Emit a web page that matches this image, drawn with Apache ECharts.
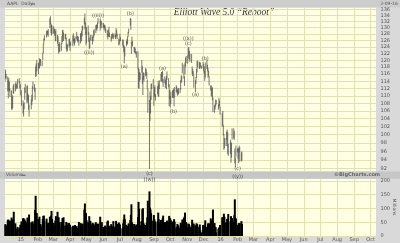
<!DOCTYPE html>
<html><head><meta charset="utf-8">
<script src="https://cdn.jsdelivr.net/npm/echarts@6/dist/echarts.min.js"></script>
<style>html,body{margin:0;padding:0;background:#d9d9d9}#c{width:400px;height:243px}</style>
</head><body><div id="c"></div>
<script>
// ---- daily AAPL bars (dates / lows / highs / volume in millions) ----
const dates = [
'2014-12-03','2014-12-04','2014-12-05','2014-12-08','2014-12-09','2014-12-10','2014-12-11','2014-12-12','2014-12-15','2014-12-16','2014-12-17','2014-12-18','2014-12-19','2014-12-22','2014-12-23','2014-12-24','2014-12-26','2014-12-29','2014-12-30','2014-12-31',
'2015-01-02','2015-01-05','2015-01-06','2015-01-07','2015-01-08','2015-01-09','2015-01-12','2015-01-13','2015-01-14','2015-01-15','2015-01-16','2015-01-20','2015-01-21','2015-01-22','2015-01-23','2015-01-26','2015-01-27','2015-01-28','2015-01-29','2015-01-30',
'2015-02-02','2015-02-03','2015-02-04','2015-02-05','2015-02-06','2015-02-09','2015-02-10','2015-02-11','2015-02-12','2015-02-13','2015-02-17','2015-02-18','2015-02-19','2015-02-20','2015-02-23','2015-02-24','2015-02-25','2015-02-26','2015-02-27',
'2015-03-02','2015-03-03','2015-03-04','2015-03-05','2015-03-06','2015-03-09','2015-03-10','2015-03-11','2015-03-12','2015-03-13','2015-03-16','2015-03-17','2015-03-18','2015-03-19','2015-03-20','2015-03-23','2015-03-24','2015-03-25','2015-03-26','2015-03-27','2015-03-30','2015-03-31',
'2015-04-01','2015-04-02','2015-04-06','2015-04-07','2015-04-08','2015-04-09','2015-04-10','2015-04-13','2015-04-14','2015-04-15','2015-04-16','2015-04-17','2015-04-20','2015-04-21','2015-04-22','2015-04-23','2015-04-24','2015-04-27','2015-04-28','2015-04-29','2015-04-30',
'2015-05-01','2015-05-04','2015-05-05','2015-05-06','2015-05-07','2015-05-08','2015-05-11','2015-05-12','2015-05-13','2015-05-14','2015-05-15','2015-05-18','2015-05-19','2015-05-20','2015-05-21','2015-05-22','2015-05-26','2015-05-27','2015-05-28','2015-05-29',
'2015-06-01','2015-06-02','2015-06-03','2015-06-04','2015-06-05','2015-06-08','2015-06-09','2015-06-10','2015-06-11','2015-06-12','2015-06-15','2015-06-16','2015-06-17','2015-06-18','2015-06-19','2015-06-22','2015-06-23','2015-06-24','2015-06-25','2015-06-26','2015-06-29','2015-06-30',
'2015-07-01','2015-07-02','2015-07-06','2015-07-07','2015-07-08','2015-07-09','2015-07-10','2015-07-13','2015-07-14','2015-07-15','2015-07-16','2015-07-17','2015-07-20','2015-07-21','2015-07-22','2015-07-23','2015-07-24','2015-07-27','2015-07-28','2015-07-29','2015-07-30','2015-07-31',
'2015-08-03','2015-08-04','2015-08-05','2015-08-06','2015-08-07','2015-08-10','2015-08-11','2015-08-12','2015-08-13','2015-08-14','2015-08-17','2015-08-18','2015-08-19','2015-08-20','2015-08-21','2015-08-24','2015-08-25','2015-08-26','2015-08-27','2015-08-28','2015-08-31',
'2015-09-01','2015-09-02','2015-09-03','2015-09-04','2015-09-08','2015-09-09','2015-09-10','2015-09-11','2015-09-14','2015-09-15','2015-09-16','2015-09-17','2015-09-18','2015-09-21','2015-09-22','2015-09-23','2015-09-24','2015-09-25','2015-09-28','2015-09-29','2015-09-30',
'2015-10-01','2015-10-02','2015-10-05','2015-10-06','2015-10-07','2015-10-08','2015-10-09','2015-10-12','2015-10-13','2015-10-14','2015-10-15','2015-10-16','2015-10-19','2015-10-20','2015-10-21','2015-10-22','2015-10-23','2015-10-26','2015-10-27','2015-10-28','2015-10-29','2015-10-30',
'2015-11-02','2015-11-03','2015-11-04','2015-11-05','2015-11-06','2015-11-09','2015-11-10','2015-11-11','2015-11-12','2015-11-13','2015-11-16','2015-11-17','2015-11-18','2015-11-19','2015-11-20','2015-11-23','2015-11-24','2015-11-25','2015-11-27','2015-11-30',
'2015-12-01','2015-12-02','2015-12-03','2015-12-04','2015-12-07','2015-12-08','2015-12-09','2015-12-10','2015-12-11','2015-12-14','2015-12-15','2015-12-16','2015-12-17','2015-12-18','2015-12-21','2015-12-22','2015-12-23','2015-12-24','2015-12-28','2015-12-29','2015-12-30','2015-12-31',
'2016-01-04','2016-01-05','2016-01-06','2016-01-07','2016-01-08','2016-01-11','2016-01-12','2016-01-13','2016-01-14','2016-01-15','2016-01-19','2016-01-20','2016-01-21','2016-01-22','2016-01-25','2016-01-26','2016-01-27','2016-01-28','2016-01-29',
'2016-02-01','2016-02-02','2016-02-03','2016-02-04','2016-02-05','2016-02-08','2016-02-09'
];
const lows = [
114.0,114.9,114.6,111.3,109.4,111.5,111.3,109.8,106.5,106.3,106.8,110.6,110.7,111.3,112.3,111.9,112.1,113.5,112.1,110.2,
107.4,105.4,104.6,106.5,109.0,110.8,108.2,108.8,108.1,106.4,104.6,106.5,107.6,108.6,111.8,111.2,109.0,115.3,115.5,116.9,
116.1,117.6,117.8,119.3,118.4,118.4,120.2,122.2,124.9,126.1,127.0,127.6,128.0,127.3,130.0,131.2,128.3,127.6,128.1,
128.2,128.3,127.5,125.8,125.9,125.1,124.3,122.1,122.6,122.6,122.9,125.0,125.6,127.4,125.9,126.4,126.5,123.4,122.6,122.9,124.0,124.4,
122.9,124.5,124.3,125.9,125.1,124.5,125.4,126.4,125.9,125.5,125.9,124.5,125.2,126.6,125.8,127.4,129.2,131.2,129.6,127.9,124.6,
125.3,127.9,125.7,123.4,123.8,126.1,125.9,124.8,125.8,126.9,127.6,128.4,129.5,129.1,129.9,131.4,129.1,130.2,131.1,129.9,
130.1,129.3,129.9,128.9,128.4,127.2,126.4,127.2,128.3,127.1,125.7,126.4,126.7,127.2,126.5,127.0,126.5,127.0,127.5,126.5,124.5,124.9,
126.0,125.8,124.5,123.8,122.5,119.2,121.2,124.3,124.9,124.9,127.2,128.3,130.7,129.4,122.0,124.9,124.2,122.6,122.3,122.3,121.9,120.9,
117.5,112.1,112.0,114.0,114.5,116.5,113.3,110.3,114.5,114.0,115.5,115.8,114.7,111.9,105.6,92.0,103.5,105.4,109.0,111.9,112.1,
107.4,109.8,109.7,108.8,110.5,109.9,109.8,111.9,114.0,114.0,115.4,113.7,112.5,113.5,112.2,113.1,111.9,114.5,112.4,107.3,109.2,
107.0,107.9,109.5,109.8,109.5,107.3,109.7,111.1,110.9,110.1,110.4,110.5,110.8,111.8,113.6,114.0,116.3,114.8,112.8,116.1,118.2,119.3,
119.1,120.6,121.6,120.2,119.6,119.3,116.1,115.5,115.7,112.3,111.0,113.3,115.0,116.6,118.1,117.6,117.6,118.0,117.6,117.8,
116.9,116.1,114.2,115.1,117.6,116.9,115.1,115.5,112.9,111.5,110.0,109.8,108.9,105.8,105.6,106.5,107.2,107.8,106.4,106.8,107.3,105.1,
102.0,102.4,99.9,96.4,96.8,97.3,98.8,97.3,95.4,95.0,95.4,93.4,94.6,98.9,99.1,98.8,93.3,92.4,94.8,
95.8,94.3,93.3,95.8,93.7,93.7,93.9
];
const highs = [
116.4,117.2,116.0,115.3,114.3,114.9,113.8,111.9,111.4,110.2,109.9,112.8,113.2,113.3,113.8,113.1,114.5,114.8,113.9,113.1,
111.4,108.7,107.9,108.2,112.2,113.2,112.6,112.8,110.5,110.1,107.6,109.0,110.2,112.5,113.8,113.1,112.1,118.1,119.0,120.0,
119.2,119.1,120.5,120.2,120.3,119.8,122.2,124.9,126.5,127.5,128.9,128.9,129.0,129.5,133.0,133.6,131.3,130.9,130.6,
130.3,129.5,129.6,128.8,129.4,127.6,127.2,124.8,124.9,125.4,125.0,127.3,129.2,129.2,128.4,127.9,128.0,126.8,124.9,124.7,126.4,126.5,
125.1,125.6,127.5,128.1,126.4,126.6,127.2,128.6,127.3,127.2,127.1,126.1,128.1,128.2,128.9,130.4,130.6,133.1,134.5,131.6,128.6,
130.1,130.6,128.5,126.8,126.1,127.6,127.6,126.9,127.2,129.0,129.5,130.7,130.9,130.9,131.6,133.0,132.9,132.3,132.0,131.5,
131.4,130.7,130.9,130.6,129.7,129.2,128.1,129.3,130.2,128.3,127.2,127.9,127.8,128.3,127.8,128.1,127.6,129.8,129.2,128.0,126.5,126.2,
128.0,126.9,126.2,126.2,124.6,124.1,123.9,125.8,126.4,127.2,128.6,129.6,133.0,132.9,125.5,127.1,125.7,123.9,123.9,123.5,122.6,122.6,
122.6,117.7,117.4,116.5,116.3,120.0,118.2,115.4,116.4,116.3,117.7,117.4,116.5,114.4,111.9,108.8,111.1,109.9,113.2,113.3,114.5,
111.9,112.3,112.8,110.4,112.6,114.0,113.3,114.2,116.0,116.5,116.5,116.9,114.6,115.3,114.2,114.7,115.5,116.7,114.8,113.1,111.5,
109.9,111.0,111.4,111.5,111.9,109.6,112.3,112.8,112.4,111.5,111.9,112.0,112.0,114.2,115.5,115.5,119.2,118.7,115.3,119.3,120.7,121.2,
121.4,123.8,123.8,122.7,121.8,121.8,118.1,117.4,116.8,115.6,114.2,115.1,117.4,119.7,119.9,119.4,119.5,119.2,118.4,119.4,
118.8,118.1,116.8,119.3,119.9,118.6,117.7,116.9,115.4,112.8,112.7,112.0,112.3,109.5,107.4,107.7,108.9,108.8,107.7,109.4,108.7,107.0,
105.4,105.9,102.4,100.1,99.1,99.1,100.7,101.2,100.5,97.7,98.7,98.2,97.9,101.5,101.5,100.9,96.6,94.5,97.3,
96.7,96.5,96.8,97.3,96.9,95.7,95.9
];
const volumes = [
43,42,38,57,60,44,41,56,67,60,53,59,88,46,26,14,33,27,30,41,
53,64,65,40,60,54,49,67,48,60,78,49,48,53,46,55,95,146,84,83,
62,51,70,42,43,38,62,73,74,54,63,45,37,48,70,69,74,91,62,
48,37,31,56,72,88,68,68,48,51,35,51,65,45,68,38,32,51,47,40,47,42,
40,32,37,35,37,32,40,36,25,28,28,51,47,32,37,45,44,96,118,63,83,
58,50,49,72,43,55,42,48,34,45,38,50,44,36,39,45,70,45,30,50,
32,33,30,38,35,52,56,39,35,36,43,31,33,35,54,34,30,55,31,44,49,44,
41,27,28,46,60,78,61,41,31,34,36,46,58,77,115,50,43,44,33,37,33,42,
69,124,99,52,38,54,97,101,48,42,40,34,48,68,128,162,103,96,83,53,56,
76,61,53,49,54,85,62,49,58,44,37,64,74,50,50,36,50,56,52,73,66,
63,57,53,48,46,61,52,30,33,44,38,38,30,48,41,41,60,66,70,85,51,49,
32,45,44,39,33,33,59,45,32,45,38,27,46,43,34,32,42,21,13,40,
34,33,41,57,32,34,46,29,46,64,52,56,44,96,47,33,32,13,26,31,25,40,
68,56,69,81,70,49,49,62,63,80,53,72,52,65,51,75,133,55,64,
40,37,46,46,46,54,44
];
// ---- axis ticks ----
const priceTicks = [92,94,96,98,100,102,104,106,108,110,112,114,116,118,120,122,124,126,128,130,132,134,136];
const volumeTicks = [0,50,100,150,200];
const monthTicks = ['2015-01-01','2015-02-01','2015-03-01','2015-04-01','2015-05-01','2015-06-01','2015-07-01','2015-08-01','2015-09-01','2015-10-01','2015-11-01','2015-12-01',
  '2016-01-01','2016-02-01','2016-03-01','2016-04-01','2016-05-01','2016-06-01','2016-07-01','2016-08-01','2016-09-01','2016-10-01'];
const monthNames = ['Jan','Feb','Mar','Apr','May','Jun','Jul','Aug','Sep','Oct','Nov','Dec'];
// ---- Elliott wave annotations ----
const waveDates  = ['2015-05-06','2015-05-22','2015-07-09','2015-07-20','2015-08-24','2015-08-24','2015-09-17','2015-10-07','2015-11-03','2015-11-03','2015-11-16','2015-12-04','2016-02-01','2016-02-01'];
const wavePrices = [123.4,133.0,119.2,133.0,92.0,92.0,116.9,107.3,123.8,123.8,111.0,119.3,93.3,93.3];
const waveTexts  = ['((ii))','((iii))','(a)','(b)','(c)','((w))','(a)','(b)','((x))','(c)','(a)','(b)','(c)','((y))'];
const waveSides  = ['bottom','top','bottom','top','bottom','bottom','top','bottom','top','top','bottom','top','bottom','bottom'];
const waveGaps   = [1,0,1.5,2,3,9,0,3,6,1,0,1.5,3.5,11.5];

const ts = s => { const p = s.split('-'); return Date.UTC(+p[0], +p[1]-1, +p[2]); };
const X_MIN = ts('2014-12-03'), X_MAX = ts('2016-10-11');
const P_MIN = Math.log(91.37), P_MAX = Math.log(136.6);
const BG = '#d9d9d9', PLOT = '#ffffe3', GRIDC = '#e4e0b2', TXT = '#555';
const monthFmt = v => { const d = new Date(v); const m = d.getUTCMonth(); return m === 0 ? String(d.getUTCFullYear()).slice(2) : monthNames[m]; };
const monthVals = monthTicks.map(ts);

const chart = echarts.init(document.getElementById('c'), null, {renderer: 'canvas'});
chart.setOption({
  backgroundColor: BG,
  animation: false,
  grid: [
    {left: 5, top: 7.5, width: 371, height: 164, show: true, backgroundColor: PLOT, borderWidth: 0},
    {left: 5, top: 178.7, width: 371, height: 57.3, show: true, backgroundColor: PLOT, borderWidth: 0}
  ],
  xAxis: [
    {type: 'value', gridIndex: 0, min: X_MIN, max: X_MAX, axisLine: {show: false},
     axisTick: {show: false, customValues: monthVals}, axisLabel: {show: false, customValues: monthVals},
     splitLine: {show: true, lineStyle: {color: GRIDC, width: 1}}},
    {type: 'value', gridIndex: 1, min: X_MIN, max: X_MAX, axisLine: {show: false},
     axisTick: {show: false, customValues: monthVals},
     axisLabel: {customValues: monthVals, formatter: monthFmt, fontSize: 5, color: TXT, margin: 1.5, fontFamily: 'DejaVu Sans'},
     splitLine: {show: true, lineStyle: {color: GRIDC, width: 1}}}
  ],
  yAxis: [
    {type: 'value', gridIndex: 0, position: 'right', min: P_MIN, max: P_MAX, axisLine: {show: false},
     axisTick: {show: false, customValues: priceTicks.map(Math.log)},
     axisLabel: {customValues: priceTicks.map(Math.log), formatter: v => String(Math.round(Math.exp(v))), fontSize: 5, color: TXT, margin: 4.5, fontFamily: 'DejaVu Sans'},
     splitLine: {show: true, lineStyle: {color: GRIDC, width: 1}}},
    {type: 'value', gridIndex: 1, position: 'right', min: 0, max: 208, axisLine: {show: false},
     axisTick: {show: false, customValues: volumeTicks},
     axisLabel: {customValues: volumeTicks, fontSize: 5, color: TXT, margin: 4.5, fontFamily: 'DejaVu Sans'},
     splitLine: {show: true, lineStyle: {color: GRIDC, width: 1}}}
  ],
  series: [
    {type: 'custom', xAxisIndex: 0, yAxisIndex: 0, clip: true,
     data: dates.map((d, i) => [ts(d), Math.log(lows[i]), Math.log(highs[i])]),
     encode: {x: 0, y: [1, 2]},
     renderItem: (params, api) => {
       const lo = api.coord([api.value(0), api.value(1)]);
       const hi = api.coord([api.value(0), api.value(2)]);
       return {type: 'line', shape: {x1: lo[0], y1: lo[1] + 0.3, x2: hi[0], y2: hi[1] - 0.3},
               style: {stroke: '#555', lineWidth: 0.8}};
     }},
    {type: 'bar', xAxisIndex: 1, yAxisIndex: 1, barWidth: 2, itemStyle: {color: '#000'},
     data: dates.map((d, i) => [ts(d), volumes[i]])},
    {type: 'scatter', xAxisIndex: 0, yAxisIndex: 0, symbolSize: 0, clip: false, silent: true,
     data: waveDates.map((d, i) => ({
       value: [ts(d), Math.log(wavePrices[i])],
       label: {show: true, formatter: waveTexts[i], position: waveSides[i], distance: waveGaps[i],
               fontSize: 5, color: '#222', fontFamily: 'DejaVu Sans'}
     }))}
  ],
  graphic: [
    {type: 'rect', shape: {x: 0, y: 0, width: 400, height: 7.5}, style: {fill: '#cdcdcd'}, silent: true},
    {type: 'rect', shape: {x: 0, y: 171.5, width: 400, height: 7.2}, style: {fill: '#c6c6c6'}, silent: true},
    {type: 'text', x: 7, y: 4, style: {text: 'AAPL  Daily', fontSize: 4.5, fill: '#555', fontFamily: 'DejaVu Sans', verticalAlign: 'middle'}},
    {type: 'rect', shape: {x: 31, y: 3.5, width: 4, height: 1}, style: {fill: '#555'}},
    {type: 'text', x: 389, y: 3.8, style: {text: '2-09-16', fontSize: 4.5, fill: '#555', fontFamily: 'DejaVu Sans', align: 'center', verticalAlign: 'middle'}},
    {type: 'text', x: 6, y: 175.2, style: {text: 'Volume', fontSize: 4.5, fill: '#555', fontFamily: 'DejaVu Sans', verticalAlign: 'middle'}},
    {type: 'rect', shape: {x: 21.5, y: 174.7, width: 4, height: 1}, style: {fill: '#555'}},
    {type: 'text', x: 357, y: 175.2, style: {text: '©BigCharts.com', fontSize: 5, fontWeight: 'bold', fill: '#666', fontFamily: 'DejaVu Sans', align: 'center', verticalAlign: 'middle'}},
    {type: 'text', x: 394, y: 207, rotation: -Math.PI / 2, style: {text: 'Millions', fontSize: 4.5, fill: '#555', fontFamily: 'DejaVu Sans', align: 'center', verticalAlign: 'middle'}},
    {type: 'text', x: 224, y: 12, style: {text: 'Elliott Wave 5.0 “Reboot”', fontSize: 9.5, fontStyle: 'italic', fill: '#333', fontFamily: 'Liberation Serif', align: 'center', verticalAlign: 'middle'}}
  ]
});
</script></body></html>
